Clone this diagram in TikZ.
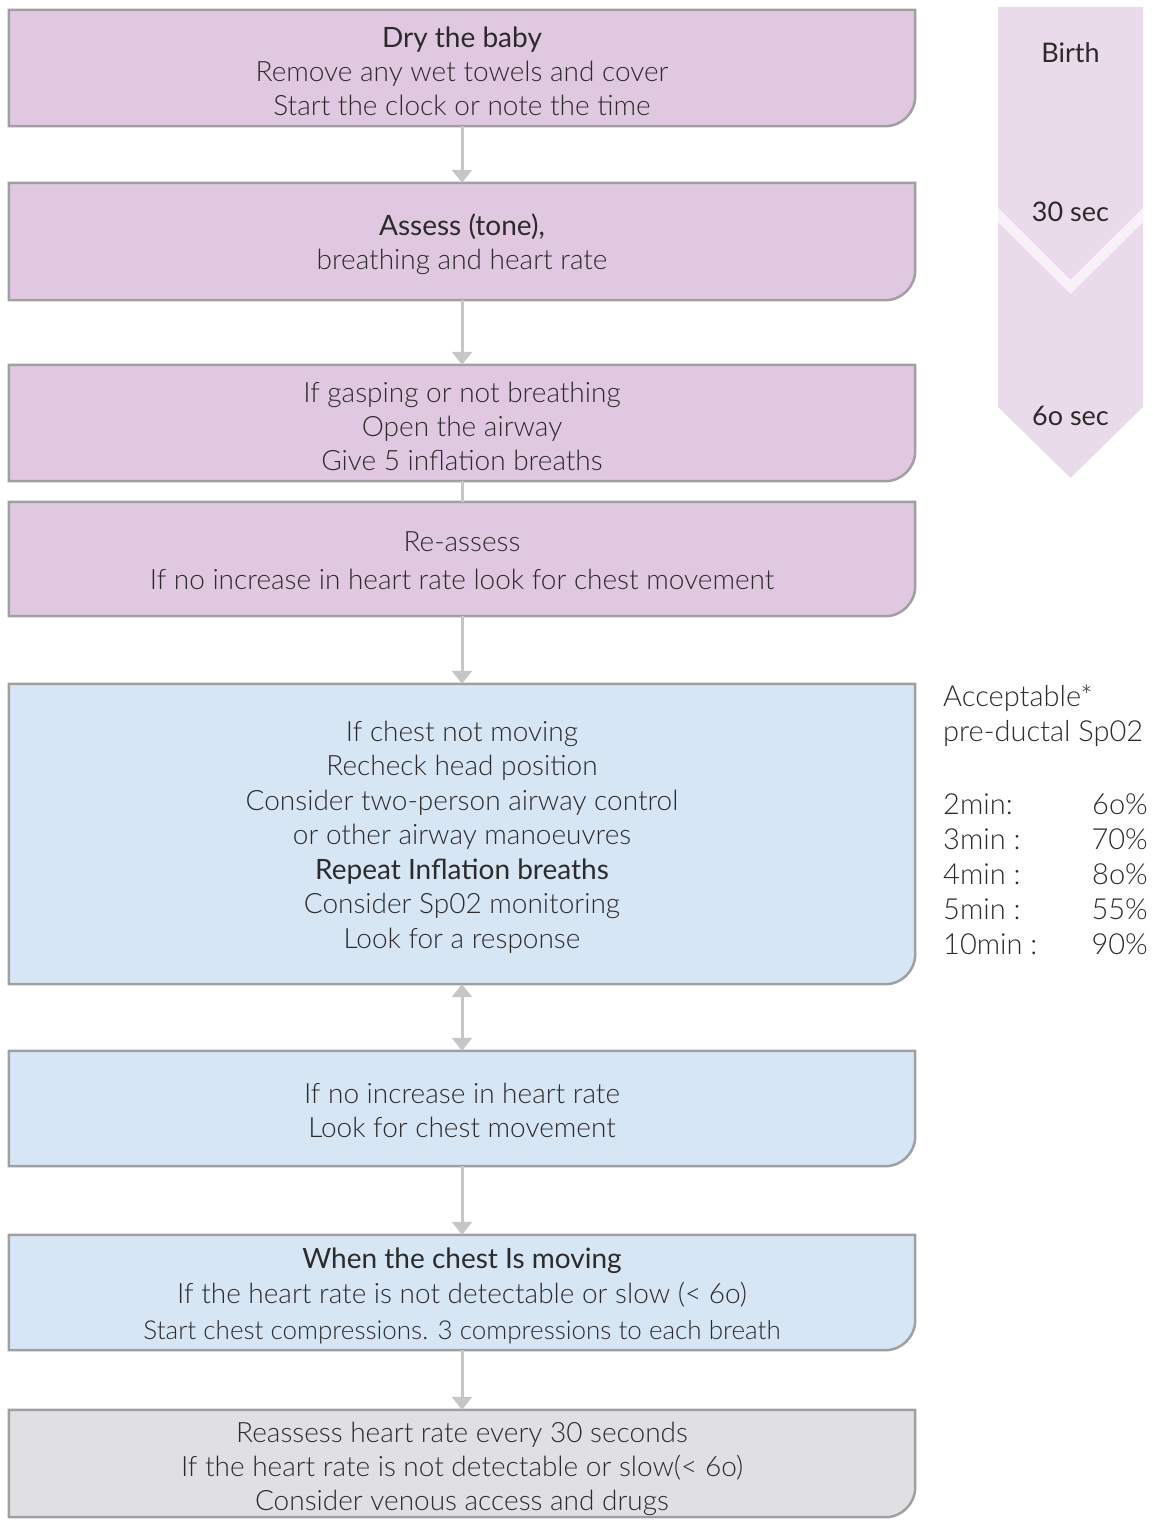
\documentclass[tikz,border=0pt]{standalone}
\usepackage{fontspec}
\IfFontExistsTF{Lato Light}{\setmainfont{Lato Light}[BoldFont={Lato}]}{\setmainfont{Lato}}
\usetikzlibrary{arrows.meta,backgrounds}
\definecolor{pinkfill}{RGB}{224,200,225}
\definecolor{bluefill}{RGB}{214,230,245}
\definecolor{grayfill}{RGB}{224,224,226}
\definecolor{bandfill}{RGB}{233,219,234}
\definecolor{vline}{RGB}{248,242,248}
\definecolor{bordergray}{RGB}{160,160,162}
\definecolor{arrowgray}{RGB}{198,198,198}
\definecolor{txt}{RGB}{45,42,44}
\tikzset{
  fbox/.style={minimum width=906pt, inner sep=0pt},
  ftext/.style={inner sep=0pt, align=center,
    font=\fontsize{28}{34}\selectfont, text=txt},
  conn/.style={draw=arrowgray, line width=3pt},
  ctip/.style={-{Triangle[width=20pt,length=13pt]}},
  btip/.style={{Triangle[width=20pt,length=13pt]}-{Triangle[width=20pt,length=13pt]}},
  sidetext/.style={inner sep=0pt, font=\fontsize{29}{34}\selectfont, text=txt},
  bandtext/.style={inner sep=0pt, font=\bfseries\fontsize{27}{34}\selectfont, text=txt}
}
\newcommand\boxbg[2]{%
  \begin{pgfonlayer}{background}
  \filldraw[fill=#2, draw=bordergray, line width=2.5pt]
    (#1.north west) -- (#1.north east) -- ([yshift=30pt]#1.south east)
    arc[start angle=0, end angle=-90, radius=30pt] -- (#1.south west) -- cycle;
  \end{pgfonlayer}}
\begin{document}
\begin{tikzpicture}[x=1pt,y=-1pt]
\useasboundingbox (0,0) rectangle (1152,1520);
% time band
\fill[bandfill] (998,7) -- (1143,7) -- (1143,407) -- (1070.5,478) -- (998,407) -- cycle;
\begin{scope}
\clip (998,7) rectangle (1143,480);
\draw[vline, line width=10pt] (990,207) -- (1070.5,287) -- (1151,207);
\end{scope}
\node[bandtext] (tb) at (1070.5,53) {Birth};
\node[bandtext] (t30) at (1070.5,212) {30 sec};
\node[bandtext] (t60) at (1070.5,416) {6o sec};

% boxes
\node[fbox, minimum height=116pt] (b1) at (462,68) {};
\boxbg{b1}{pinkfill}
\node[ftext] (b1t) at ([yshift=-3pt]b1.center) {\textbf{Dry the baby}\\Remove any wet towels and cover\\Start the clock or note the time};
\node[fbox, minimum height=117pt] (b2) at (462,241.5) {};
\boxbg{b2}{pinkfill}
\node[ftext] (b2t) at ([yshift=-3pt]b2.center) {\textbf{Assess (tone),}\\breathing and heart rate};
\node[fbox, minimum height=116pt] (b3) at (462,423) {};
\boxbg{b3}{pinkfill}
\node[ftext] (b3t) at ([yshift=-3pt]b3.center) {If gasping or not breathing\\Open the airway\\Give 5 inflation breaths};
\node[fbox, minimum height=114pt] (b4) at (462,559) {};
\boxbg{b4}{pinkfill}
\node[ftext, font=\fontsize{28}{38}\selectfont] (b4t) at ([yshift=-2pt]b4.center) {Re-assess\\If no increase in heart rate look for chest movement};
\node[fbox, minimum height=300pt] (b5) at (462,834) {};
\boxbg{b5}{bluefill}
\node[ftext, font=\fontsize{28}{34.5}\selectfont] (b5t) at ([yshift=-3pt]b5.center) {If chest not moving\\Recheck head position\\Consider two-person airway control\\or other airway manoeuvres\\\textbf{Repeat Inflation breaths}\\Consider Sp02 monitoring\\Look for a response};
\node[fbox, minimum height=115pt] (b6) at (462,1108.5) {};
\boxbg{b6}{bluefill}
\node[ftext] (b6t) at ([yshift=-2pt]b6.center) {If no increase in heart rate\\Look for chest movement};
\node[fbox, minimum height=115pt] (b7) at (462,1292.5) {};
\boxbg{b7}{bluefill}
\node[ftext, font=\fontsize{28}{35.5}\selectfont] (b7t) at ([yshift=-3pt]b7.center) {\textbf{When the chest Is moving}\\If the heart rate is not detectable or slow (< 6o)\\{\fontsize{26}{35.5}\selectfont Start chest compressions. 3 compressions to each breath}};
\node[fbox, minimum height=107pt] (b8) at (462,1463.5) {};
\boxbg{b8}{grayfill}
\node[ftext] (b8t) at ([yshift=-5pt]b8.center) {Reassess heart rate every 30 seconds\\If the heart rate is not detectable or slow(< 6o)\\Consider venous access and drugs};

% connectors
\draw[conn, ctip] (b1.south) -- (b2.north);
\draw[conn, ctip] (b2.south) -- (b3.north);
\draw[conn] (b3.south) -- (b4.north);
\draw[conn, ctip] (b4.south) -- (b5.north);
\draw[conn, btip] (b5.south) -- (b6.north);
\draw[conn, ctip] (b6.south) -- (b7.north);
\draw[conn, ctip] (b7.south) -- (b8.north);

% SpO2 table
\node[sidetext, anchor=west] (s1) at (943,698) {Acceptable*};
\node[sidetext, anchor=west] (s2) at (943,733) {pre-ductal Sp02};
\node[sidetext, anchor=west] (r1) at (943,804) {2min:};
\node[sidetext, anchor=east] (v1) at (1148,804) {6o\%};
\node[sidetext, anchor=west] (r2) at (943,839) {3min :};
\node[sidetext, anchor=east] (v2) at (1148,839) {70\%};
\node[sidetext, anchor=west] (r3) at (943,874) {4min :};
\node[sidetext, anchor=east] (v3) at (1148,874) {8o\%};
\node[sidetext, anchor=west] (r4) at (943,909) {5min :};
\node[sidetext, anchor=east] (v4) at (1148,909) {55\%};
\node[sidetext, anchor=west] (r5) at (943,944) {10min :};
\node[sidetext, anchor=east] (v5) at (1148,944) {90\%};
\end{tikzpicture}
\end{document}
